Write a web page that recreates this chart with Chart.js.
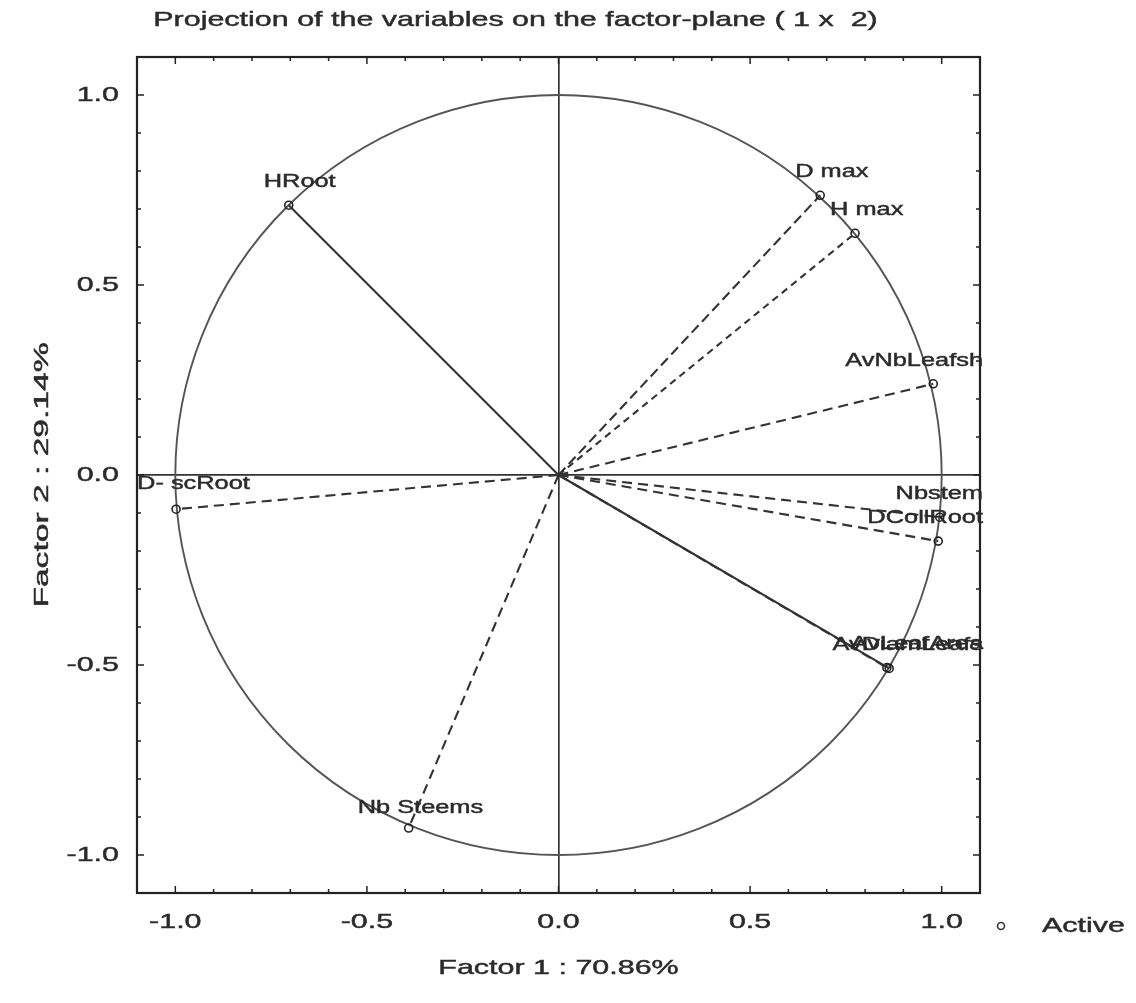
<!DOCTYPE html>
<html><head><meta charset="utf-8">
<script src="https://cdn.jsdelivr.net/npm/chart.js@4"></script>
<style>html,body{margin:0;padding:0;background:#fff}</style>
</head><body>
<canvas id="c" width="1136" height="1003"></canvas>
<script>
// ---- data ----
const variables = ["HRoot", "D max", "H max", "AvNbLeafsh", "Nbstem", "DCollRoot", "AvDiamLeafs", "AvLeafArea", "D- scRoot", "Nb Steems"];
const factor1 = [-0.704, 0.683, 0.774, 0.978, 0.995, 0.991, 0.863, 0.857, -0.998, -0.391];
const factor2 = [0.710, 0.736, 0.636, 0.240, -0.111, -0.174, -0.509, -0.507, -0.090, -0.929];
const xTickLabels = ["-1.0", "-0.5", "0.0", "0.5", "1.0"];
const yTickLabels = ["-1.0", "-0.5", "0.0", "0.5", "1.0"];
const chartTitle = "Projection of the variables on the factor-plane ( 1 x  2)";
const xTitle = "Factor 1 : 70.86%";
const yTitle = "Factor 2 : 29.14%";
const legendLabel = "Active";

// ---- styles ----
const SOLID = new Set(["HRoot", "AvDiamLeafs"]);
const DASH = {"D max": [10, 5], "H max": [7, 5]};
const labelNudge = {"Nb Steems": [-26, 3], "D- scRoot": [-14, -2]};
const FONT = '"Liberation Sans", Arial, sans-serif';
const SX = 1.45;
const TXT = '#2b2b2b';

function stext(ctx, txt, x, y, align, size, rot, sx) {
  ctx.save();
  ctx.translate(x, y);
  if (rot) ctx.rotate(rot);
  ctx.scale(sx || SX, 1);
  ctx.font = size + 'px ' + FONT;
  ctx.fillStyle = TXT;
  ctx.strokeStyle = TXT;
  ctx.lineWidth = 0.45;
  ctx.textAlign = align;
  ctx.textBaseline = 'middle';
  ctx.fillText(txt, 0, 0);
  ctx.strokeText(txt, 0, 0);
  ctx.restore();
}
function twidth(ctx, txt, size) {
  ctx.save(); ctx.font = size + 'px ' + FONT;
  const w = ctx.measureText(txt).width * SX; ctx.restore(); return w;
}

const pcaPlugin = {
  id: 'pca',
  beforeDatasetsDraw(chart) {
    const {ctx, scales: {x, y}} = chart;
    const cx = x.getPixelForValue(0), cy = y.getPixelForValue(0);
    const rx = x.getPixelForValue(1) - cx, ry = cy - y.getPixelForValue(1);
    ctx.save();
    ctx.beginPath();
    ctx.ellipse(cx, cy, rx, ry, 0, 0, Math.PI * 2);
    ctx.strokeStyle = '#555';
    ctx.lineWidth = 1.9;
    ctx.stroke();
    ctx.restore();
  },
  afterDraw(chart) {
    const {ctx, chartArea: a, scales: {x, y}} = chart;
    ctx.save();
    // frame
    ctx.strokeStyle = '#222';
    ctx.lineWidth = 2.2;
    ctx.strokeRect(a.left, a.top, a.right - a.left, a.bottom - a.top);
    // tick marks
    ctx.lineWidth = 1.5;
    const isMajor = v => Math.abs(v * 2 - Math.round(v * 2)) < 1e-6;
    x.ticks.forEach(t => {
      const px = x.getPixelForValue(t.value);
      if (px <= a.left + 1 || px >= a.right - 1) return;
      const L = isMajor(t.value) ? 7 : 4;
      ctx.beginPath();
      ctx.moveTo(px, a.bottom); ctx.lineTo(px, a.bottom - L);
      ctx.moveTo(px, a.top); ctx.lineTo(px, a.top + L);
      ctx.stroke();
    });
    y.ticks.forEach(t => {
      const py = y.getPixelForValue(t.value);
      if (py <= a.top + 1 || py >= a.bottom - 1) return;
      const L = isMajor(t.value) ? 7 : 4;
      ctx.beginPath();
      ctx.moveTo(a.left, py); ctx.lineTo(a.left + L, py);
      ctx.moveTo(a.right, py); ctx.lineTo(a.right - L, py);
      ctx.stroke();
    });
    ctx.restore();
    // tick labels
    xTickLabels.forEach(l => stext(ctx, l, x.getPixelForValue(parseFloat(l)), a.bottom + 29, 'center', 21));
    yTickLabels.forEach(l => stext(ctx, l, a.left - 18, y.getPixelForValue(parseFloat(l)), 'right', 21));
    // titles
    stext(ctx, chartTitle, (a.left + a.right) / 2 - 43, 20, 'center', 21);
    stext(ctx, xTitle, (a.left + a.right) / 2, a.bottom + 75, 'center', 21);
    stext(ctx, yTitle, 42, (a.top + a.bottom) / 2, 'center', 21, -Math.PI / 2, 1.6);
    // legend
    ctx.save();
    ctx.beginPath();
    ctx.arc(a.right + 21, a.bottom + 33, 3.5, 0, Math.PI * 2);
    ctx.strokeStyle = '#333'; ctx.lineWidth = 1.6; ctx.stroke();
    ctx.restore();
    stext(ctx, legendLabel, a.right + 62, a.bottom + 33, 'left', 21);
    // point labels
    variables.forEach((name, i) => {
      const px = x.getPixelForValue(factor1[i]);
      const py = y.getPixelForValue(factor2[i]);
      const n = labelNudge[name] || [0, 0];
      const w = twidth(ctx, name, 17.5);
      let left = px - 25 + n[0];
      if (left + w > a.right + 3) left = a.right + 3 - w;
      stext(ctx, name, left, py - 23 + n[1], 'left', 17.5);
    });
  }
};

new Chart(document.getElementById('c'), {
  type: 'scatter',
  data: {
    datasets: variables.map((name, i) => ({
      label: name,
      data: [{x: 0, y: 0}, {x: factor1[i], y: factor2[i]}],
      showLine: true,
      borderColor: '#333',
      borderWidth: 2.1,
      borderDash: SOLID.has(name) ? [] : (DASH[name] || [10, 6]),
      pointRadius: c => c.dataIndex === 1 ? 4 : 0,
      pointBackgroundColor: 'rgba(255,255,255,0)',
      pointBorderColor: '#222',
      pointBorderWidth: 1.6,
      fill: false,
      tension: 0
    }))
  },
  options: {
    responsive: false,
    animation: false,
    events: [],
    layout: {padding: {left: 0, top: 57, right: 156, bottom: 0}},
    plugins: {legend: {display: false}, tooltip: {enabled: false}, title: {display: false}},
    scales: {
      x: {
        type: 'linear', min: -1.1, max: 1.1,
        ticks: {display: false, stepSize: 0.1},
        grid: {drawTicks: false, lineWidth: 1.7, color: c => Math.abs(c.tick.value) < 1e-9 ? '#333' : 'rgba(0,0,0,0)'},
        border: {display: false},
        afterFit: s => { s.height = 110; }
      },
      y: {
        type: 'linear', min: -1.1, max: 1.1,
        ticks: {display: false, stepSize: 0.1},
        grid: {drawTicks: false, lineWidth: 1.7, color: c => Math.abs(c.tick.value) < 1e-9 ? '#333' : 'rgba(0,0,0,0)'},
        border: {display: false},
        afterFit: s => { s.width = 137; }
      }
    }
  },
  plugins: [pcaPlugin]
});
</script>
</body></html>
